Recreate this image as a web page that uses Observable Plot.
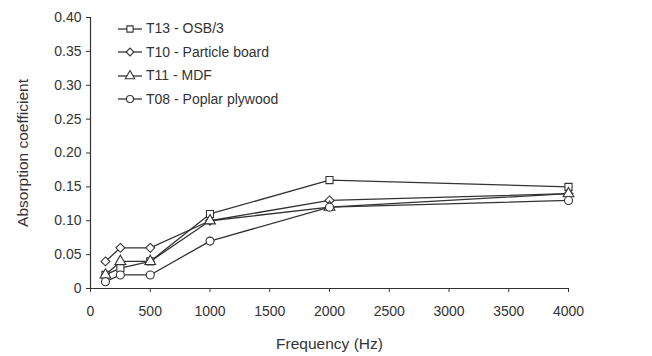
<!DOCTYPE html>
<html>
<head>
<meta charset="utf-8">
<script src="https://cdn.jsdelivr.net/npm/d3@7"></script>
<script src="https://cdn.jsdelivr.net/npm/@observablehq/plot@0.6"></script>
<style>
  html, body { margin: 0; padding: 0; background: #fff; }
  #wrap { position: relative; width: 652px; height: 356px; font-family: "Liberation Sans", Arial, sans-serif; color: #333; }
  #legend { position: absolute; left: 117px; top: 17px; font-size: 14px; line-height: 23.5px; }
  #legend div { display: flex; align-items: center; height: 23.5px; }
  #legend svg { margin-right: 3px; }
</style>
</head>
<body>
<div id="wrap"><div id="chart"></div><div id="legend"></div></div>
<script>
const frequencies = [125, 250, 500, 1000, 2000, 4000];
const seriesNames = ["T13 - OSB/3", "T10 - Particle board", "T11 - MDF", "T08 - Poplar plywood"];
const seriesSymbols = ["square", "diamond2", "triangle", "circle"];
const t13 = [0.02, 0.03, 0.04, 0.11, 0.16, 0.15];
const t10 = [0.04, 0.06, 0.06, 0.10, 0.13, 0.14];
const t11 = [0.02, 0.04, 0.04, 0.10, 0.12, 0.14];
const t08 = [0.01, 0.02, 0.02, 0.07, 0.12, 0.13];
const xTicks = [0, 500, 1000, 1500, 2000, 2500, 3000, 3500, 4000];
const yTicks = [0, 0.05, 0.10, 0.15, 0.20, 0.25, 0.30, 0.35, 0.40];

const seriesValues = [t13, t10, t11, t08];
const data = seriesValues.flatMap((vals, i) =>
  vals.map((v, j) => ({series: seriesNames[i], freq: frequencies[j], value: v})));

const ink = "#333";
const chart = Plot.plot({
  width: 652,
  height: 356,
  marginLeft: 90,
  marginRight: 84,
  marginTop: 17,
  marginBottom: 68,
  style: {fontFamily: "'Liberation Sans', Arial, sans-serif", fontSize: "14px", color: ink, background: "#fff"},
  x: {domain: [0, 4000], label: null},
  y: {domain: [0, 0.40], label: null},
  symbol: {domain: seriesNames, range: seriesSymbols},
  marks: [
    Plot.ruleY([0], {stroke: ink, strokeWidth: 1.2}),
    Plot.ruleX([0], {stroke: ink, strokeWidth: 1.2}),
    Plot.axisX({ticks: xTicks, tickSize: 4, tickPadding: 14, tickFormat: d => String(d), label: "Frequency (Hz)", labelAnchor: "center", labelArrow: "none", labelOffset: 60, fontSize: 14}),
    Plot.axisY({ticks: yTicks, tickSize: 4, tickPadding: 5, tickFormat: d => d === 0 ? "0" : d.toFixed(2), label: null, fontSize: 14}),
    Plot.text(["Absorption coefficient"], {frameAnchor: "left", textAnchor: "middle", dx: -67, rotate: -90, fontSize: 15.5, fill: ink}),
    Plot.line(data, {x: "freq", y: "value", z: "series", stroke: ink, strokeWidth: 1.3}),
    Plot.dot(data, {x: "freq", y: "value", symbol: "series", r: 4, stroke: ink, strokeWidth: 1.1, fill: "white"})
  ]
});
chart.querySelectorAll("[aria-label='x-axis label'] text").forEach(t => t.setAttribute("font-size", "15.5"));
document.getElementById("chart").appendChild(chart);

// Legend
const legend = d3.select("#legend");
seriesNames.forEach((name, i) => {
  const row = legend.append("div");
  const svg = row.append("svg").attr("width", 26).attr("height", 14);
  svg.append("line").attr("x1", 1).attr("x2", 25).attr("y1", 7).attr("y2", 7).attr("stroke", ink).attr("stroke-width", 1.3);
  const symName = seriesSymbols[i];
  const sym = {square: d3.symbolSquare, diamond2: d3.symbolDiamond2, triangle: d3.symbolTriangle, circle: d3.symbolCircle}[symName];
  svg.append("path").attr("d", d3.symbol(sym, 3.5 * 3.5 * Math.PI)()).attr("transform", "translate(13,7)")
    .attr("fill", "white").attr("stroke", ink).attr("stroke-width", 1.1);
  row.append("span").text(name);
});
</script>
</body>
</html>
